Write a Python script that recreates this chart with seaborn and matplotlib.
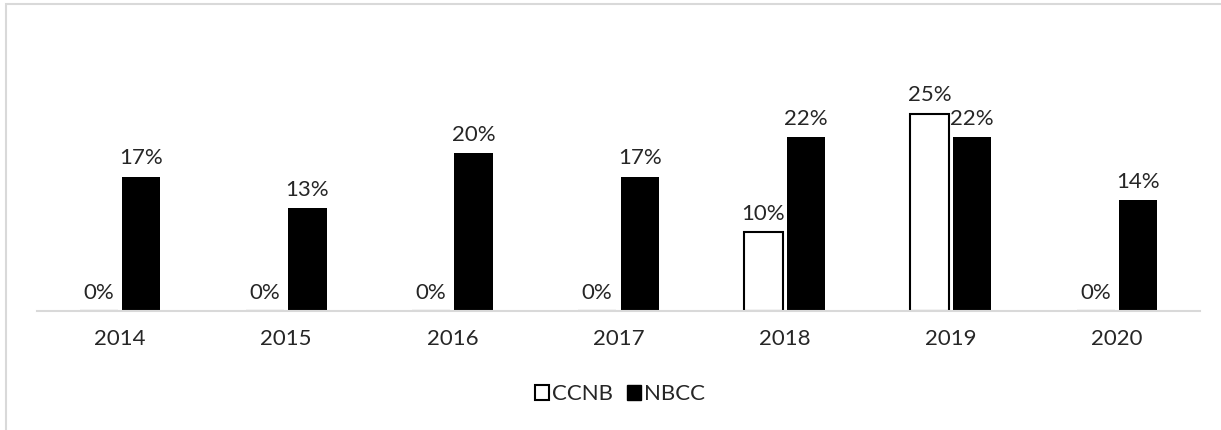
import matplotlib.pyplot as plt
import pandas as pd
import seaborn as sns
from matplotlib.patches import Patch, Rectangle

years = ["2014", "2015", "2016", "2017", "2018", "2019", "2020"]
ccnb = [0.00, 0.00, 0.00, 0.00, 0.10, 0.25, 0.00]
nbcc = [0.17, 0.13, 0.20, 0.17, 0.22, 0.22, 0.14]
series = ["CCNB", "NBCC"]

df = pd.DataFrame({
    "year": years * 2,
    "share": ccnb + nbcc,
    "school": ["CCNB"] * len(years) + ["NBCC"] * len(years),
})

sns.set_theme(style="white")
plt.rcParams["font.family"] = ["Lato", "DejaVu Sans"]

fig = plt.figure(figsize=(12.21, 4.30), dpi=100)
ax = fig.add_axes([37 / 1221, 1 - 311 / 430, 1163 / 1221, 237 / 430])

sns.barplot(
    data=df,
    x="year",
    y="share",
    hue="school",
    hue_order=series,
    palette={"CCNB": "white", "NBCC": "black"},
    width=0.512,
    gap=0.1,
    edgecolor="black",
    linewidth=1.5,
    legend=False,
    ax=ax,
)

# NBCC bars: solid fill, no extra outline
for bar in ax.containers[1]:
    bar.set_linewidth(0)

for cont in ax.containers:
    ax.bar_label(cont, labels=[f"{v * 100:.0f}%" for v in cont.datavalues],
                 padding=6, fontsize=16, color="#262626")

ax.set_xlim(-0.5, 6.5)
ax.set_ylim(0, 0.30)
ax.set_xlabel("")
ax.set_ylabel("")
ax.set_yticks([])
ax.tick_params(axis="x", length=0, pad=13, labelsize=16, labelcolor="#262626")
for side in ["top", "right", "left"]:
    ax.spines[side].set_visible(False)
ax.spines["bottom"].set_color("#d9d9d9")
ax.spines["bottom"].set_linewidth(1.5)

handles = [
    Patch(facecolor="white", edgecolor="black", linewidth=1.5, label="CCNB"),
    Patch(facecolor="black", edgecolor="black", label="NBCC"),
]
fig.legend(
    handles=handles,
    loc="center",
    bbox_to_anchor=(620 / 1221, 1 - 394 / 430),
    ncol=2,
    frameon=False,
    fontsize=16,
    handlelength=0.65,
    handleheight=0.65,
    handletextpad=0.15,
    columnspacing=0.6,
    labelcolor="#262626",
)

# chart area border (only top and left edges fall inside the image)
fig.add_artist(Rectangle((6 / 1221, -0.1), 1.2, 0.1 + 1 - 4 / 430,
                         transform=fig.transFigure, fill=False,
                         edgecolor="#d9d9d9", linewidth=1.5))

fig.savefig("out.png", dpi=100)
